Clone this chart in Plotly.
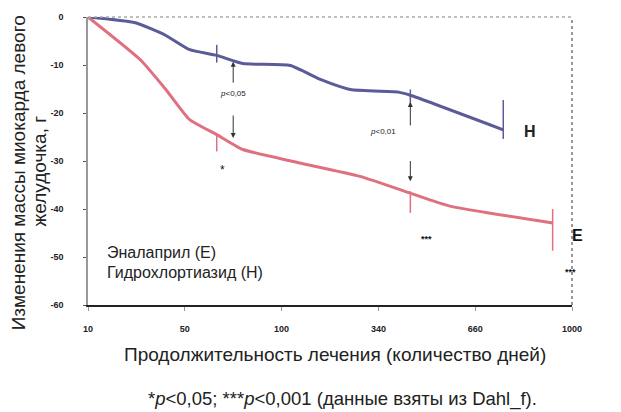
import plotly.graph_objects as go

# ---- data ----
tick_pos = [0, 1, 2, 3, 4, 5]
tick_labels = ["10", "50", "100", "340", "660", "1000"]
y_ticks = [0, -10, -20, -30, -40, -50, -60]

h_x = [0, 0.49, 0.80, 1.05, 1.33, 1.60, 2.09, 2.40, 2.71, 3.22, 3.33, 4.29]
h_y = [0, -1.2, -3.8, -6.8, -8.0, -9.7, -10.1, -13.0, -15.1, -15.7, -16.3, -23.5]

e_x = [0, 0.54, 0.80, 1.05, 1.33, 1.60, 2.12, 2.81, 3.33, 3.74, 4.80]
e_y = [0, -8.9, -15.0, -21.4, -24.5, -27.6, -30.1, -33.2, -36.7, -39.4, -42.9]

# error marks
h_err_x = [1.33, 3.33, 4.29]
h_err_y = [-8.0, -16.3, -23.5]
h_err_up = [2.2, 1.2, 6.2]
h_err_dn = [1.5, 1.8, 1.9]

e_err_x = [1.33, 3.33, 4.80]
e_err_y = [-24.5, -36.7, -42.9]
e_err_up = [0.0, 0.4, 2.9]
e_err_dn = [3.5, 4.1, 5.8]

BLUE = "#5b5b98"
PINK = "#e0707f"
FONT = "Liberation Sans, Arial, sans-serif"

fig = go.Figure()
fig.add_trace(go.Scatter(x=h_x, y=h_y, mode="lines", line=dict(color=BLUE, width=3, shape="spline", smoothing=0.5),
                         hoverinfo="skip"))
fig.add_trace(go.Scatter(x=e_x, y=e_y, mode="lines", line=dict(color=PINK, width=3, shape="spline", smoothing=0.5),
                         hoverinfo="skip"))
fig.add_trace(go.Scatter(x=h_err_x, y=h_err_y, mode="markers", marker=dict(size=1, color=BLUE),
                         error_y=dict(type="data", symmetric=False, array=h_err_up, arrayminus=h_err_dn,
                                      color=BLUE, thickness=1.5, width=0)))
fig.add_trace(go.Scatter(x=e_err_x, y=e_err_y, mode="markers", marker=dict(size=1, color=PINK),
                         error_y=dict(type="data", symmetric=False, array=e_err_up, arrayminus=e_err_dn,
                                      color=PINK, thickness=1.5, width=0)))

ann = []
for (x, y0, y1) in [(1.5, -14.0, -9.3), (1.5, -20.2, -25.2), (3.33, -22.9, -17.7), (3.33, -29.7, -34.2)]:
    ann.append(dict(x=x, y=y1, ax=x, ay=y0, xref="x", yref="y", axref="x", ayref="y",
                    showarrow=True, arrowhead=2, arrowsize=1, arrowwidth=1, arrowcolor="#333", text=""))
small = dict(family=FONT, size=8, color="#222")
ann += [
    dict(x=1.5, y=-15.9, text="<i>p</i>&lt;0,05", showarrow=False, font=small),
    dict(x=3.05, y=-23.9, text="<i>p</i>&lt;0,01", showarrow=False, font=small),
    dict(x=1.39, y=-31.8, text="*", showarrow=False, font=dict(family=FONT, size=12, color="#111")),
    dict(x=3.50, y=-46.3, text="<b>***</b>", showarrow=False, font=dict(family=FONT, size=9, color="#111")),
    dict(x=4.98, y=-53.2, text="<b>***</b>", showarrow=False, font=dict(family=FONT, size=9, color="#111")),
    dict(x=4.57, y=-23.9, text="<b>H</b>", showarrow=False, font=dict(family=FONT, size=16, color="#222")),
]
for a in ann:
    a.setdefault("xref", "x"); a.setdefault("yref", "y")
    a.setdefault("xanchor", "center"); a.setdefault("yanchor", "middle")


def px_x(px):
    return (px - 88) / 484


def px_y(py):
    return (305 - py) / 291


legend_font = dict(family=FONT, size=16, color="#222")
title_font = dict(family=FONT, size=19, color="#222")
ytitle_font = dict(family=FONT, size=19, color="#222")
paper_ann = [
    dict(x=px_x(577), y=px_y(235), text="<b>E</b>", font=dict(family=FONT, size=16, color="#111")),
    dict(x=px_x(105), y=px_y(252), xanchor="left", text="Эналаприл (E)", font=legend_font),
    dict(x=px_x(105), y=px_y(272), xanchor="left", text="Гидрохлортиазид (H)", font=legend_font),
    dict(x=px_x(18), y=px_y(172), textangle=-90, text="Изменения массы миокарда левого", font=ytitle_font),
    dict(x=px_x(39), y=px_y(170), textangle=-90, text="желудочка, г", font=ytitle_font),
    dict(x=px_x(335), y=px_y(355), text="Продолжительность лечения (количество дней)", font=title_font),
    dict(x=px_x(342), y=px_y(400), text="*<i>p</i>&lt;0,05; ***<i>p</i>&lt;0,001 (данные взяты из Dahl_f).",
         font=dict(family=FONT, size=18.5, color="#222")),
]
for a in paper_ann:
    a.update(xref="paper", yref="paper", showarrow=False)
    a.setdefault("xanchor", "center"); a.setdefault("yanchor", "middle")
ann += paper_ann

fig.update_layout(
    width=621, height=412,
    margin=dict(l=88, r=49, t=14, b=107),
    paper_bgcolor="white", plot_bgcolor="white",
    showlegend=False,
    annotations=ann,
    shapes=[
        dict(type="line", xref="paper", yref="paper", x0=0, x1=1, y0=1, y1=1,
             line=dict(color="#aaaaaa", width=1.5, dash="dot")),
        dict(type="line", xref="paper", yref="paper", x0=1, x1=1, y0=0, y1=1,
             line=dict(color="#999999", width=2, dash="dot")),
    ],
    xaxis=dict(range=[0, 5], tickvals=tick_pos, ticktext=tick_labels, showgrid=False, zeroline=False,
               showline=True, linecolor="#222", linewidth=2, ticks="outside", ticklen=4, tickcolor="#999",
               ticklabelstandoff=10,
               tickfont=dict(family=FONT, size=9, color="#222", weight="bold")),
    yaxis=dict(range=[-60, 0], tickvals=y_ticks, ticktext=[str(v) for v in y_ticks], showgrid=False,
               zeroline=False, showline=True, linecolor="#999", linewidth=1.5, ticks="outside", ticklen=3,
               tickcolor="#555", ticklabelstandoff=18,
               tickfont=dict(family=FONT, size=9, color="#222", weight="bold")),
)

fig.write_html("out.html")
